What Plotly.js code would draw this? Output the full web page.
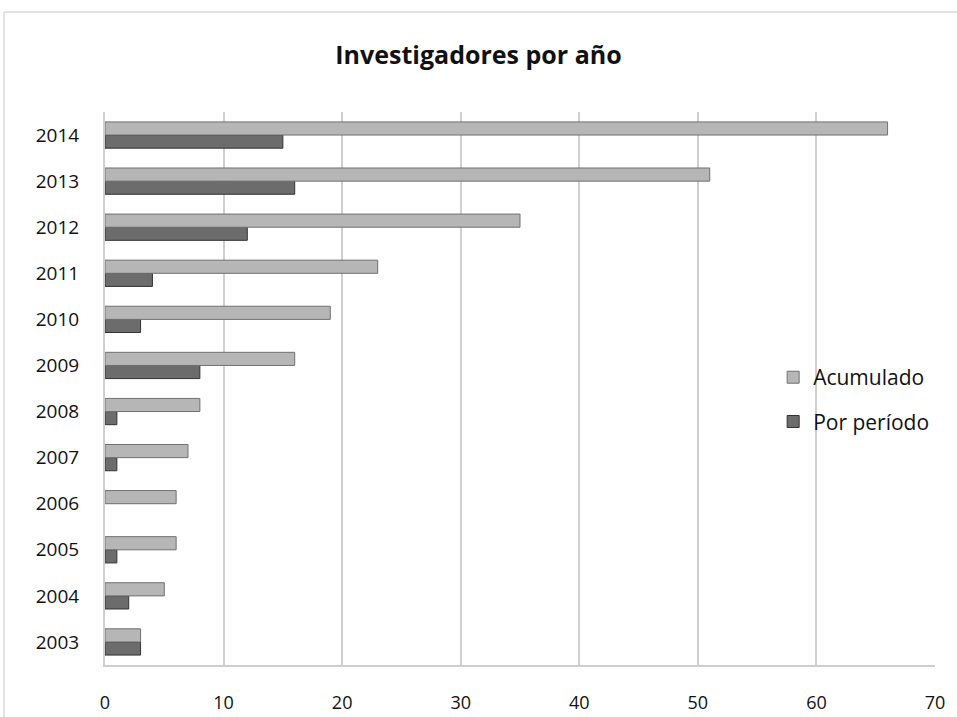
<!DOCTYPE html>
<html>
<head>
<meta charset="utf-8">
<script src="https://cdn.plot.ly/plotly-3.0.1.min.js"></script>
<style>html,body{margin:0;padding:0;background:#fff;}#chart{width:957px;height:717px;}</style>
</head>
<body>
<div id="chart"></div>
<script>
const years = ['2003','2004','2005','2006','2007','2008','2009','2010','2011','2012','2013','2014'];
const acumulado = [3, 5, 6, 6, 7, 8, 16, 19, 23, 35, 51, 66];
const porPeriodo = [3, 2, 1, 0, 1, 1, 8, 3, 4, 12, 16, 15];
const xTicks = [0, 10, 20, 30, 40, 50, 60, 70];

const traces = [
  {
    type: 'bar', orientation: 'h', name: 'Por período', legendgroup: 'p', legendrank: 2,
    y: years, x: porPeriodo,
    marker: {color: '#6c6c6c', line: {color: '#333333', width: porPeriodo.map(v => v > 0 ? 1 : 0)}}
  },
  {
    type: 'bar', orientation: 'h', name: 'Acumulado', legendgroup: 'a', legendrank: 1,
    y: years, x: acumulado,
    marker: {color: '#b6b6b6', line: {color: '#707070', width: acumulado.map(v => v > 0 ? 1 : 0)}}
  }
];

const layout = {
  width: 957, height: 717,
  margin: {l: 105, r: 22, t: 112, b: 52},
  paper_bgcolor: '#ffffff', plot_bgcolor: '#ffffff',
  font: {family: 'Open Sans, sans-serif', color: '#111'},
  title: {text: '<b>Investigadores por año</b>', font: {size: 25, color: '#111', family: 'Open Sans, sans-serif'}, x: 0.5, xanchor: 'center', y: 0.923, yanchor: 'middle'},
  barmode: 'group', bargap: 0.43, bargroupgap: 0,
  xaxis: {
    range: [0, 70], tickvals: xTicks, ticktext: xTicks.map(String),
    showgrid: true, gridcolor: '#cfcfcf', gridwidth: 2,
    zeroline: false, showline: true, linecolor: '#cfcfcf', linewidth: 2,
    ticks: '', tickfont: {size: 18, color: '#111'}, ticklabelstandoff: 20,
    fixedrange: true
  },
  yaxis: {
    type: 'category', categoryorder: 'array', categoryarray: years,
    showgrid: false, zeroline: false,
    showline: true, linecolor: '#cfcfcf', linewidth: 2,
    ticks: '', tickfont: {size: 19, color: '#111'}, ticklabelstandoff: 20,
    fixedrange: true
  },
  legend: {
    x: 0.805, y: 0.48, xanchor: 'left', yanchor: 'middle',
    traceorder: 'grouped', font: {size: 21, color: '#111'},
    bgcolor: 'rgba(0,0,0,0)', itemwidth: 30, tracegroupgap: 14
  },
  shapes: [
    {type: 'rect', xref: 'paper', yref: 'paper', x0: -0.1217, x1: 1.2, y0: -0.2, y1: 1.1808,
     line: {color: '#c8c8c8', width: 1}, fillcolor: 'rgba(0,0,0,0)', layer: 'below'}
  ],
  showlegend: true
};

Plotly.newPlot('chart', traces, layout, {displayModeBar: false, staticPlot: true});
</script>
</body>
</html>
